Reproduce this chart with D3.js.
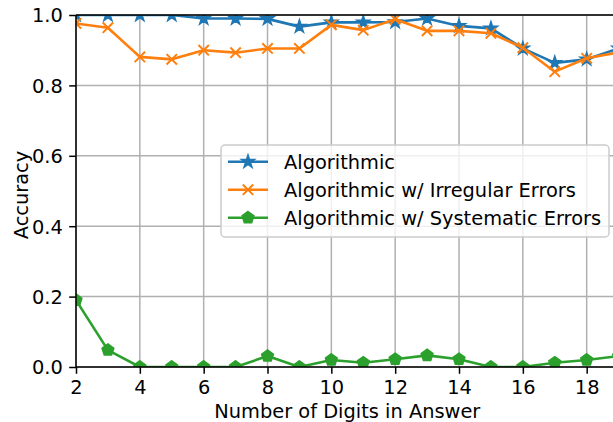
<!DOCTYPE html>
<html><head><meta charset="utf-8">
<script src="https://cdn.jsdelivr.net/npm/d3@7"></script>
<style>body{margin:0;background:#fff}svg{display:block}text{font-family:"DejaVu Sans",sans-serif}</style>
</head><body>
<script>
const digits = [2,3,4,5,6,7,8,9,10,11,12,13,14,15,16,17,18,19];
const algorithmic = [1.0,1.0,1.0,1.0,0.99,0.99,0.989,0.967,0.979,0.979,0.98,0.99,0.969,0.962,0.905,0.864,0.874,0.905];
const irregular = [0.976,0.964,0.881,0.874,0.9,0.893,0.905,0.905,0.972,0.957,0.988,0.955,0.955,0.948,0.907,0.839,0.877,0.894];
const systematic = [0.19,0.048,0,0,0,0,0.031,0,0.02,0.012,0.022,0.033,0.022,0,0,0.012,0.02,0.031];
const seriesNames = ["Algorithmic","Algorithmic w/ Irregular Errors","Algorithmic w/ Systematic Errors"];
const colors = ["#1f77b4","#ff7f0e","#2ca02c"];
const xTicks = [2,4,6,8,10,12,14,16,18];
const yTicks = [0,0.2,0.4,0.6,0.8,1.0];

const W=613,H=422, FS=19.4;
const L=76, R=618.6, T=15, B=367;
const svg=d3.select("body").append("svg").attr("width",W).attr("height",H);
const x=d3.scaleLinear().domain([2,19]).range([L,R]);
const y=d3.scaleLinear().domain([0,1]).range([B,T]);

svg.append("clipPath").attr("id","c").append("rect").attr("x",L).attr("y",T).attr("width",R-L).attr("height",B-T);

// grid
const g=svg.append("g");
g.selectAll(".vg").data(xTicks).join("line").attr("x1",d=>x(d)).attr("x2",d=>x(d)).attr("y1",T).attr("y2",B).attr("stroke","#b0b0b0").attr("stroke-width",1.5);
g.selectAll(".hg").data(yTicks).join("line").attr("x1",L).attr("x2",R).attr("y1",d=>y(d)).attr("y2",d=>y(d)).attr("stroke","#b0b0b0").attr("stroke-width",1.5);

function starPath(r){let p=[];for(let i=0;i<10;i++){const a=-Math.PI/2+i*Math.PI/5;const rr=i%2?r*0.38:r;p.push([rr*Math.cos(a),rr*Math.sin(a)]);}return "M"+p.map(q=>q.join(",")).join("L")+"Z";}
function pentPath(r){let p=[];for(let i=0;i<5;i++){const a=-Math.PI/2+i*2*Math.PI/5;p.push([r*Math.cos(a),r*Math.sin(a)]);}return "M"+p.map(q=>q.join(",")).join("L")+"Z";}
function xPath(r){return `M${-r},${-r}L${r},${r}M${-r},${r}L${r},${-r}`;}
const markers=[
  {d:starPath(6.8),fill:true},
  {d:xPath(5.2),fill:false},
  {d:pentPath(6.2),fill:true}
];
const data=[algorithmic,irregular,systematic];
const plot=svg.append("g").attr("clip-path","url(#c)");
const line=d3.line().x((d,i)=>x(digits[i])).y(d=>y(d));
data.forEach((s,k)=>{
  plot.append("path").datum(s).attr("d",line).attr("fill","none").attr("stroke",colors[k]).attr("stroke-width",2.6).attr("stroke-linejoin","round");
  plot.selectAll(".m"+k).data(s).join("path").attr("transform",(d,i)=>`translate(${x(digits[i])},${y(d)})`).attr("d",markers[k].d)
    .attr("fill",markers[k].fill?colors[k]:"none").attr("stroke",colors[k]).attr("stroke-width",markers[k].fill?1.5:2);
});

// axes
const xa=svg.append("g").attr("transform",`translate(0,${B})`).call(d3.axisBottom(x).tickValues(xTicks).tickFormat(d3.format("d")).tickSize(6.8).tickPadding(6.8));
const ya=svg.append("g").attr("transform",`translate(${L},0)`).call(d3.axisLeft(y).tickValues(yTicks).tickFormat(d3.format(".1f")).tickSize(6.8).tickPadding(6.4));
[xa,ya].forEach(a=>{a.select(".domain").remove();a.selectAll("text").attr("font-size",FS).attr("fill","#000").attr("font-family","DejaVu Sans");a.selectAll("line").attr("stroke","#000").attr("stroke-width",1.5);});
xa.selectAll("text").attr("y",27).attr("dy",0);
ya.selectAll("text").attr("dy","0.36em");
// spines
svg.append("line").attr("x1",L).attr("x2",L).attr("y1",T).attr("y2",B).attr("stroke","#000").attr("stroke-width",1.5);
svg.append("line").attr("x1",L).attr("x2",W).attr("y1",B).attr("y2",B).attr("stroke","#000").attr("stroke-width",1.5);
svg.append("line").attr("x1",L).attr("x2",W).attr("y1",T).attr("y2",T).attr("stroke","#000").attr("stroke-width",1.5);

// labels
svg.append("text").attr("x",(L+R)/2).attr("y",418).attr("text-anchor","middle").attr("font-size",FS).text("Number of Digits in Answer");
svg.append("text").attr("transform","translate(27.5,195) rotate(-90)").attr("text-anchor","middle").attr("font-size",FS).text("Accuracy");

// legend
const lg=svg.append("g");
lg.append("rect").attr("x",221).attr("y",145).attr("width",388).attr("height",92).attr("rx",4).attr("fill","#fff").attr("fill-opacity",0.8).attr("stroke","#ccc").attr("stroke-width",1.5);
seriesNames.forEach((n,k)=>{
  const yy=161.7+k*28;
  lg.append("line").attr("x1",228).attr("x2",268).attr("y1",yy).attr("y2",yy).attr("stroke",colors[k]).attr("stroke-width",2.6);
  lg.append("path").attr("transform",`translate(248,${yy})`).attr("d",markers[k].d).attr("fill",markers[k].fill?colors[k]:"none").attr("stroke",colors[k]).attr("stroke-width",markers[k].fill?1.5:2);
  lg.append("text").attr("x",284).attr("y",yy).attr("dy","0.36em").attr("font-size",FS).text(n);
});
</script>
</body></html>
